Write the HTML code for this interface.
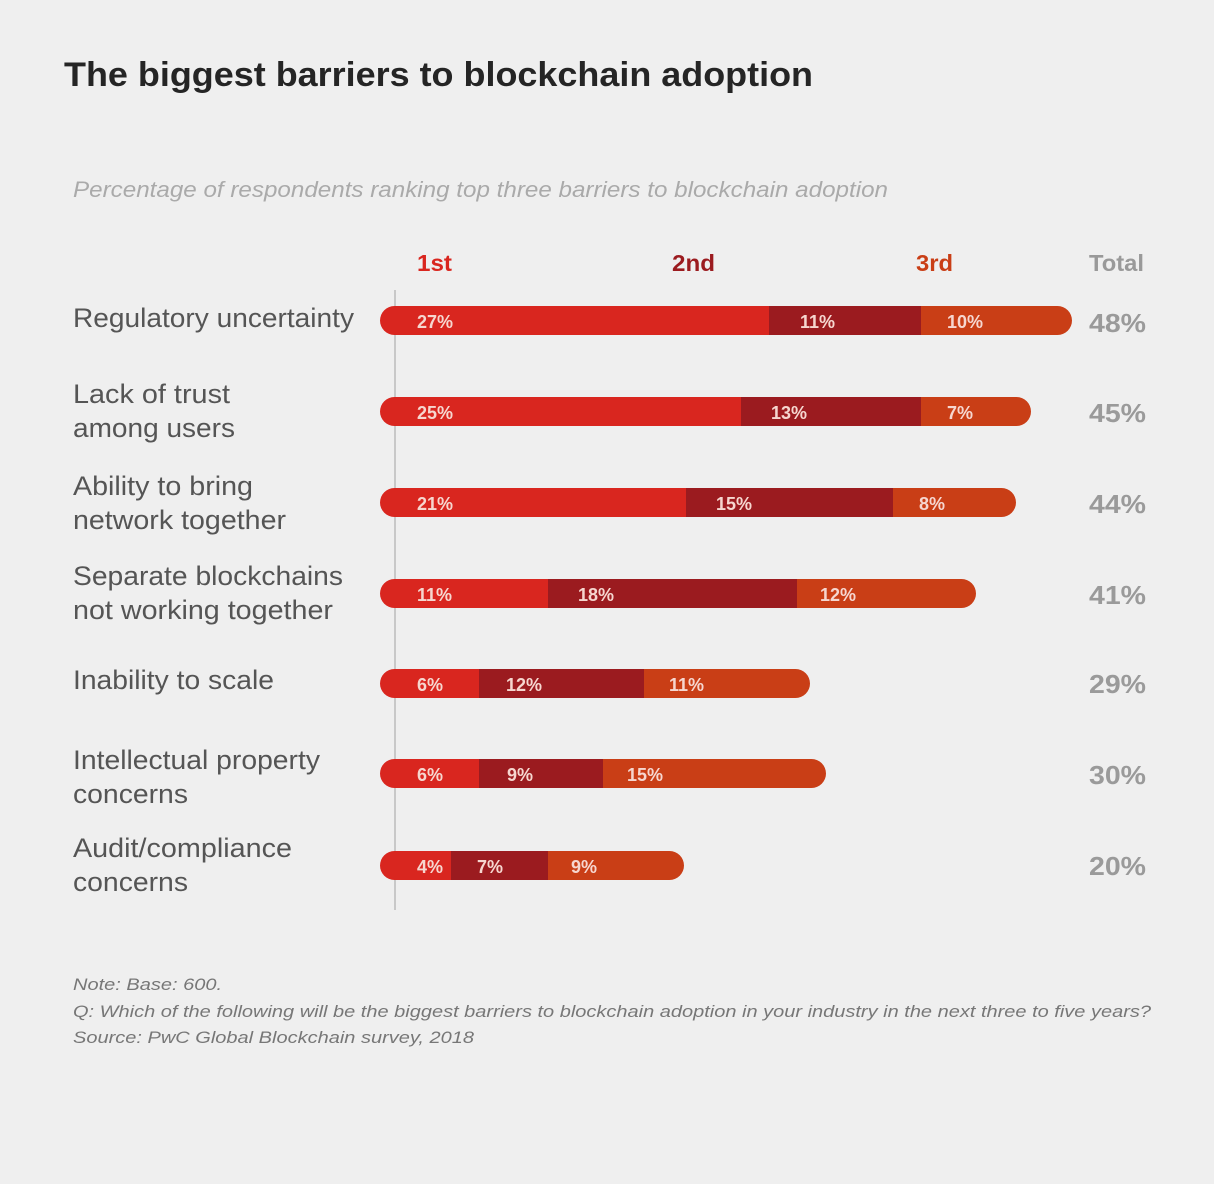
<!DOCTYPE html>
<html><head><meta charset="utf-8"><style>
html,body{margin:0;padding:0;background:#efefef;}
svg{display:block;font-family:"Liberation Sans",Arial,sans-serif;}
</style></head><body>
<svg width="1214" height="1184" viewBox="0 0 1214 1184">
<rect width="1214" height="1184" fill="#efefef"/>
<text x="64" y="86" font-size="34" font-weight="bold" fill="#252525" textLength="749" lengthAdjust="spacingAndGlyphs">The biggest barriers to blockchain adoption</text>
<text x="73" y="197" font-size="22" font-style="italic" fill="#aaa" textLength="815" lengthAdjust="spacingAndGlyphs">Percentage of respondents ranking top three barriers to blockchain adoption</text>
<g font-size="23" font-weight="bold">
<text x="417" y="271" fill="#d9261f" textLength="35" lengthAdjust="spacingAndGlyphs">1st</text>
<text x="672" y="271" fill="#9b1b1f" textLength="43" lengthAdjust="spacingAndGlyphs">2nd</text>
<text x="916" y="271" fill="#c93e16" textLength="37" lengthAdjust="spacingAndGlyphs">3rd</text>
<text x="1089" y="271" fill="#999" textLength="55" lengthAdjust="spacingAndGlyphs">Total</text>
</g>
<line x1="395" y1="290" x2="395" y2="910" stroke="#c8c8c8" stroke-width="2"/>
<g font-size="27" fill="#555" lengthAdjust="spacingAndGlyphs">
<text x="73" y="327" textLength="281" lengthAdjust="spacingAndGlyphs">Regulatory uncertainty</text>
<text x="73" y="403" textLength="157" lengthAdjust="spacingAndGlyphs">Lack of trust</text><text x="73" y="437" textLength="162" lengthAdjust="spacingAndGlyphs">among users</text>
<text x="73" y="495" textLength="180" lengthAdjust="spacingAndGlyphs">Ability to bring</text><text x="73" y="529" textLength="213" lengthAdjust="spacingAndGlyphs">network together</text>
<text x="73" y="585" textLength="270" lengthAdjust="spacingAndGlyphs">Separate blockchains</text><text x="73" y="619" textLength="260" lengthAdjust="spacingAndGlyphs">not working together</text>
<text x="73" y="689" textLength="201" lengthAdjust="spacingAndGlyphs">Inability to scale</text>
<text x="73" y="769" textLength="247" lengthAdjust="spacingAndGlyphs">Intellectual property</text><text x="73" y="803" textLength="115" lengthAdjust="spacingAndGlyphs">concerns</text>
<text x="73" y="857" textLength="219" lengthAdjust="spacingAndGlyphs">Audit/compliance</text><text x="73" y="891" textLength="115" lengthAdjust="spacingAndGlyphs">concerns</text>
</g>
<defs>
<clipPath id="c1"><rect x="380" y="306" width="692" height="29" rx="14.5"/></clipPath>
<clipPath id="c2"><rect x="380" y="397" width="651" height="29" rx="14.5"/></clipPath>
<clipPath id="c3"><rect x="380" y="488" width="636" height="29" rx="14.5"/></clipPath>
<clipPath id="c4"><rect x="380" y="579" width="596" height="29" rx="14.5"/></clipPath>
<clipPath id="c5"><rect x="380" y="669" width="430" height="29" rx="14.5"/></clipPath>
<clipPath id="c6"><rect x="380" y="759" width="446" height="29" rx="14.5"/></clipPath>
<clipPath id="c7"><rect x="380" y="851" width="304" height="29" rx="14.5"/></clipPath>
</defs>
<g clip-path="url(#c1)"><rect x="380" y="306" width="389" height="29" fill="#d9261f"/><rect x="769" y="306" width="152" height="29" fill="#9b1b1f"/><rect x="921" y="306" width="151" height="29" fill="#c93e16"/></g>
<g clip-path="url(#c2)"><rect x="380" y="397" width="361" height="29" fill="#d9261f"/><rect x="741" y="397" width="180" height="29" fill="#9b1b1f"/><rect x="921" y="397" width="110" height="29" fill="#c93e16"/></g>
<g clip-path="url(#c3)"><rect x="380" y="488" width="306" height="29" fill="#d9261f"/><rect x="686" y="488" width="207" height="29" fill="#9b1b1f"/><rect x="893" y="488" width="123" height="29" fill="#c93e16"/></g>
<g clip-path="url(#c4)"><rect x="380" y="579" width="168" height="29" fill="#d9261f"/><rect x="548" y="579" width="249" height="29" fill="#9b1b1f"/><rect x="797" y="579" width="179" height="29" fill="#c93e16"/></g>
<g clip-path="url(#c5)"><rect x="380" y="669" width="99" height="29" fill="#d9261f"/><rect x="479" y="669" width="165" height="29" fill="#9b1b1f"/><rect x="644" y="669" width="166" height="29" fill="#c93e16"/></g>
<g clip-path="url(#c6)"><rect x="380" y="759" width="99" height="29" fill="#d9261f"/><rect x="479" y="759" width="124" height="29" fill="#9b1b1f"/><rect x="603" y="759" width="223" height="29" fill="#c93e16"/></g>
<g clip-path="url(#c7)"><rect x="380" y="851" width="71" height="29" fill="#d9261f"/><rect x="451" y="851" width="97" height="29" fill="#9b1b1f"/><rect x="548" y="851" width="136" height="29" fill="#c93e16"/></g>
<g font-size="18" font-weight="bold" fill="#f6d6cf">
<text x="417" y="328">27%</text><text x="800" y="328">11%</text><text x="947" y="328">10%</text>
<text x="417" y="419">25%</text><text x="771" y="419">13%</text><text x="947" y="419">7%</text>
<text x="417" y="510">21%</text><text x="716" y="510">15%</text><text x="919" y="510">8%</text>
<text x="417" y="601">11%</text><text x="578" y="601">18%</text><text x="820" y="601">12%</text>
<text x="417" y="691">6%</text><text x="506" y="691">12%</text><text x="669" y="691">11%</text>
<text x="417" y="781">6%</text><text x="507" y="781">9%</text><text x="627" y="781">15%</text>
<text x="417" y="873">4%</text><text x="477" y="873">7%</text><text x="571" y="873">9%</text>
</g>
<g font-size="26" font-weight="bold" fill="#9a9a9a">
<text x="1089" y="332" textLength="57" lengthAdjust="spacingAndGlyphs">48%</text>
<text x="1089" y="422" textLength="57" lengthAdjust="spacingAndGlyphs">45%</text>
<text x="1089" y="513" textLength="57" lengthAdjust="spacingAndGlyphs">44%</text>
<text x="1089" y="604" textLength="57" lengthAdjust="spacingAndGlyphs">41%</text>
<text x="1089" y="693" textLength="57" lengthAdjust="spacingAndGlyphs">29%</text>
<text x="1089" y="784" textLength="57" lengthAdjust="spacingAndGlyphs">30%</text>
<text x="1089" y="875" textLength="57" lengthAdjust="spacingAndGlyphs">20%</text>
</g>
<g font-size="17" font-style="italic" fill="#777">
<text x="73" y="990" textLength="149" lengthAdjust="spacingAndGlyphs">Note: Base: 600.</text>
<text x="73" y="1017" textLength="1078" lengthAdjust="spacingAndGlyphs">Q: Which of the following will be the biggest barriers to blockchain adoption in your industry in the next three to five years?</text>
<text x="73" y="1043" textLength="401" lengthAdjust="spacingAndGlyphs">Source: PwC Global Blockchain survey, 2018</text>
</g>
</svg>
</body></html>
